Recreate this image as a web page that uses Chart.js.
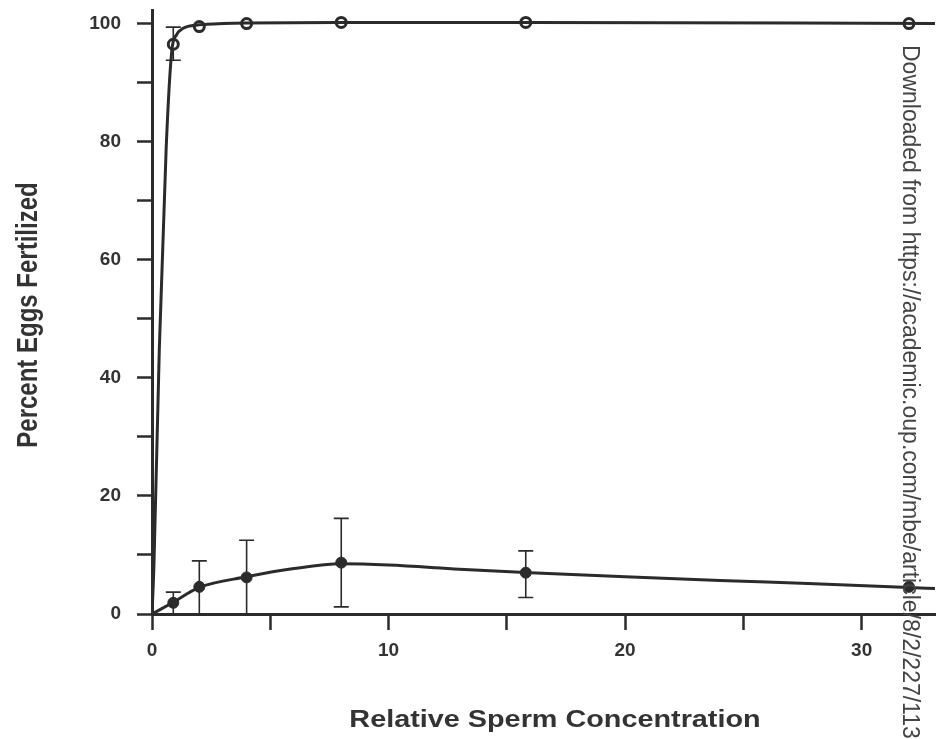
<!DOCTYPE html>
<html>
<head>
<meta charset="utf-8">
<script src="https://cdn.jsdelivr.net/npm/chart.js@4"></script>
<style>
  html, body { margin: 0; padding: 0; background: #fff; overflow: hidden; }
  #wrap { width: 943px; height: 739px; position: relative; }
</style>
</head>
<body>
<div id="wrap"><canvas id="fertChart" width="943" height="739"></canvas></div>
<script>
// Percent eggs fertilized vs relative sperm concentration

// measured points (open circles = upper series, filled = lower series)
const conc = [0.9, 2, 4, 8, 15.8, 32];
const upperPct = [96.5, 99.5, 100, 100.2, 100.2, 100];
const lowerPct = [1.9, 4.6, 6.2, 8.7, 7.0, 4.6];

// error bars (null = none drawn)
const upperErrLow = [93.8, null, null, null, null, null];
const upperErrHigh = [99.4, null, null, null, null, null];
const lowerErrLow = [0, 0, 0, 1.2, 2.8, null];
const lowerErrHigh = [3.7, 9.0, 12.5, 16.2, 10.7, null];

// fitted curves
const upperCurveX = [0, 0.08, 0.31, 0.6, 0.84, 1.04, 1.32, 1.6, 2, 3, 4, 8, 16, 33.1];
const upperCurveY = [0, 8, 45, 79, 95.5, 98.1, 99.2, 99.6, 99.8, 100, 100.1, 100.2, 100.2, 100];
const lowerCurveX = [0, 0.9, 2, 4, 6, 8, 10, 13, 16, 20, 26, 32, 33.1];
const lowerCurveY = [0, 2.0, 4.5, 6.3, 7.7, 8.5, 8.3, 7.6, 7.0, 6.3, 5.4, 4.5, 4.3];

const INK = '#2b2b2b';
const FONT = '"Liberation Sans", Arial, Helvetica, sans-serif';

function pts(xs, ys) {
  return xs.map((x, i) => ({ x: x, y: ys[i] }));
}

// drop the label overhang padding so the plot box lands where the figure has it
function noOverhang(s) {
  s.paddingTop = 0; s.paddingBottom = 0; s.paddingLeft = 0; s.paddingRight = 0;
}

const errorBars = {
  id: 'errorBars',
  beforeDatasetsDraw(chart) {
    const ctx = chart.ctx;
    const xs = chart.scales.x, ys = chart.scales.y;
    const sets = [[upperErrLow, upperErrHigh], [lowerErrLow, lowerErrHigh]];
    ctx.save();
    ctx.strokeStyle = INK;
    ctx.lineWidth = 1.6;
    sets.forEach(([lo, hi]) => {
      conc.forEach((c, i) => {
        if (lo[i] == null || hi[i] == null) return;
        const px = xs.getPixelForValue(c);
        const y1 = ys.getPixelForValue(lo[i]);
        const y2 = ys.getPixelForValue(hi[i]);
        ctx.beginPath();
        ctx.moveTo(px, y1); ctx.lineTo(px, y2);
        if (lo[i] > 0) { ctx.moveTo(px - 7.5, y1); ctx.lineTo(px + 7.5, y1); }
        ctx.moveTo(px - 7.5, y2); ctx.lineTo(px + 7.5, y2);
        ctx.stroke();
      });
    });
    ctx.restore();
  }
};

const extraText = {
  id: 'extraText',
  afterDraw(chart) {
    const ctx = chart.ctx;
    ctx.save();
    ctx.fillStyle = '#333';
    ctx.font = 'bold 24px ' + FONT;
    ctx.textAlign = 'center';
    ctx.textBaseline = 'alphabetic';
    // x axis title
    ctx.save();
    ctx.translate(555, 727);
    ctx.scale(1.2, 1);
    ctx.fillText('Relative Sperm Concentration', 0, 0);
    ctx.restore();
    // y axis title
    ctx.save();
    ctx.translate(37, 315);
    ctx.scale(1.2, 1);
    ctx.rotate(-Math.PI / 2);
    ctx.fillText('Percent Eggs Fertilized', 0, 0);
    ctx.restore();
    // download stamp along the right edge
    ctx.save();
    ctx.fillStyle = '#444';
    ctx.font = '23px ' + FONT;
    ctx.textAlign = 'left';
    ctx.translate(903, 45);
    ctx.rotate(Math.PI / 2);
    ctx.fillText('Downloaded from https://academic.oup.com/mbe/article/8/2/227/1133', 0, 0);
    ctx.restore();
    ctx.restore();
  }
};

new Chart(document.getElementById('fertChart'), {
  type: 'scatter',
  data: {
    datasets: [
      { data: pts(upperCurveX, upperCurveY), showLine: true, borderColor: INK, borderWidth: 3,
        pointRadius: 0, cubicInterpolationMode: 'monotone' },
      { data: pts(lowerCurveX, lowerCurveY), showLine: true, borderColor: INK, borderWidth: 3,
        pointRadius: 0, cubicInterpolationMode: 'monotone' },
      { data: pts(conc, upperPct), showLine: false, pointRadius: 5, pointBorderWidth: 3,
        pointBackgroundColor: '#fff', pointBorderColor: INK },
      { data: pts(conc, lowerPct), showLine: false, pointRadius: 5.5, pointBorderWidth: 1,
        pointBackgroundColor: INK, pointBorderColor: INK }
    ]
  },
  options: {
    responsive: false,
    animation: false,
    layout: { padding: { top: 10, right: 0, left: 0, bottom: 0 } },
    plugins: { legend: { display: false }, tooltip: { enabled: false } },
    scales: {
      x: {
        type: 'linear', min: 0, max: 33.1,
        afterFit: s => { s.height = 125; noOverhang(s); },
        border: { display: true, color: INK, width: 3 },
        grid: { drawOnChartArea: false, tickLength: 16, tickWidth: 2.5, tickColor: INK },
        ticks: {
          stepSize: 5, includeBounds: false, padding: 9, color: '#333', maxRotation: 0,
          font: { family: FONT, size: 19, weight: 'bold' },
          callback: v => (v % 10 === 0 ? v : '')
        }
      },
      y: {
        min: 0, max: 102.3,
        afterFit: s => { s.width = 152; noOverhang(s); },
        border: { display: true, color: INK, width: 3 },
        grid: { drawOnChartArea: false, tickLength: 15, tickWidth: 2.5, tickColor: INK },
        ticks: {
          stepSize: 10, includeBounds: false, padding: 16, color: '#333',
          font: { family: FONT, size: 19, weight: 'bold' },
          callback: v => (v % 20 === 0 ? v : '')
        }
      }
    }
  },
  plugins: [errorBars, extraText]
});
</script>
</body>
</html>
